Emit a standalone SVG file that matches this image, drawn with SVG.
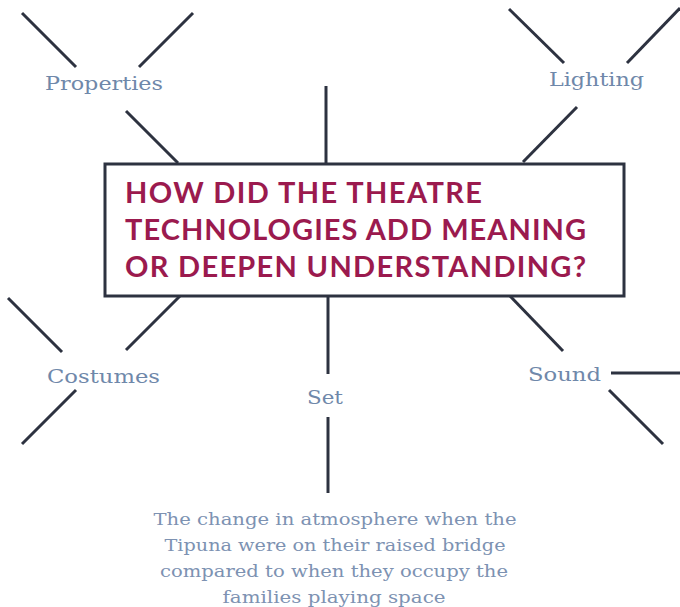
<svg xmlns="http://www.w3.org/2000/svg" width="680" height="607" viewBox="0 0 680 607">
  <style>
    .bg { fill: #ffffff; }
    .ln { stroke: #2d3240; stroke-width: 3; fill: none; stroke-linecap: butt; }
    .box { fill: #ffffff; stroke: #2d3240; stroke-width: 3; }
    .title { font-family: Lato, "Open Sans", sans-serif; font-weight: 700; font-size: 29px; fill: #9b1a4e; }
    .lbl { font-family: "DejaVu Serif", "Liberation Serif", serif; font-size: 19px; fill: #6f88aa; }
    .note { font-family: "DejaVu Serif", "Liberation Serif", serif; font-size: 17px; fill: #7d92b2; text-anchor: middle; }
  </style>
  <rect class="bg" x="0" y="0" width="680" height="607"/>

  <!-- spokes -->
  <g id="connectors">
    <!-- Properties -->
    <line class="ln" x1="22" y1="13" x2="76" y2="67"/>
    <line class="ln" x1="193" y1="13" x2="139" y2="67"/>
    <line class="ln" x1="126" y1="111" x2="178" y2="163"/>
    <!-- top centre -->
    <line class="ln" x1="326" y1="86" x2="326" y2="163"/>
    <!-- Lighting -->
    <line class="ln" x1="509" y1="9" x2="564" y2="63"/>
    <line class="ln" x1="680" y1="8" x2="627" y2="63"/>
    <line class="ln" x1="577" y1="107" x2="523" y2="162"/>
    <!-- Costumes -->
    <line class="ln" x1="8" y1="298" x2="62" y2="352"/>
    <line class="ln" x1="180" y1="296" x2="126" y2="350"/>
    <line class="ln" x1="76" y1="390" x2="22" y2="444"/>
    <!-- Set -->
    <line class="ln" x1="328" y1="296" x2="328" y2="374"/>
    <line class="ln" x1="328" y1="417" x2="328" y2="493"/>
    <!-- Sound -->
    <line class="ln" x1="510" y1="296" x2="563" y2="351"/>
    <line class="ln" x1="611" y1="373" x2="680" y2="373"/>
    <line class="ln" x1="609" y1="390" x2="663" y2="444"/>
  </g>

  <!-- central question -->
  <g id="question">
    <rect class="box" x="105" y="164" width="519" height="132"/>
    <text class="title" x="125" y="203" textLength="357" lengthAdjust="spacing">HOW DID THE THEATRE</text>
    <text class="title" x="125" y="240" textLength="461" lengthAdjust="spacing">TECHNOLOGIES ADD MEANING</text>
    <text class="title" x="125" y="277" textLength="461" lengthAdjust="spacing">OR DEEPEN UNDERSTANDING?</text>
  </g>

  <g id="properties">
    <text class="lbl" x="45" y="90" textLength="118" lengthAdjust="spacingAndGlyphs">Properties</text>
  </g>
  <g id="lighting">
    <text class="lbl" x="549" y="86" textLength="95" lengthAdjust="spacingAndGlyphs">Lighting</text>
  </g>
  <g id="costumes">
    <text class="lbl" x="47" y="383" textLength="113" lengthAdjust="spacingAndGlyphs">Costumes</text>
  </g>
  <g id="set">
    <text class="lbl" x="307" y="404" textLength="36" lengthAdjust="spacingAndGlyphs">Set</text>
  </g>
  <g id="sound">
    <text class="lbl" x="528" y="381" textLength="73" lengthAdjust="spacingAndGlyphs">Sound</text>
  </g>

  <g id="set-note">
    <text class="note" x="335" y="525" textLength="363" lengthAdjust="spacingAndGlyphs">The change in atmosphere when the</text>
    <text class="note" x="335" y="551" textLength="341" lengthAdjust="spacingAndGlyphs">Tipuna were on their raised bridge</text>
    <text class="note" x="334" y="577" textLength="348" lengthAdjust="spacingAndGlyphs">compared to when they occupy the</text>
    <text class="note" x="334" y="603" textLength="223" lengthAdjust="spacingAndGlyphs">families playing space</text>
  </g>
</svg>
